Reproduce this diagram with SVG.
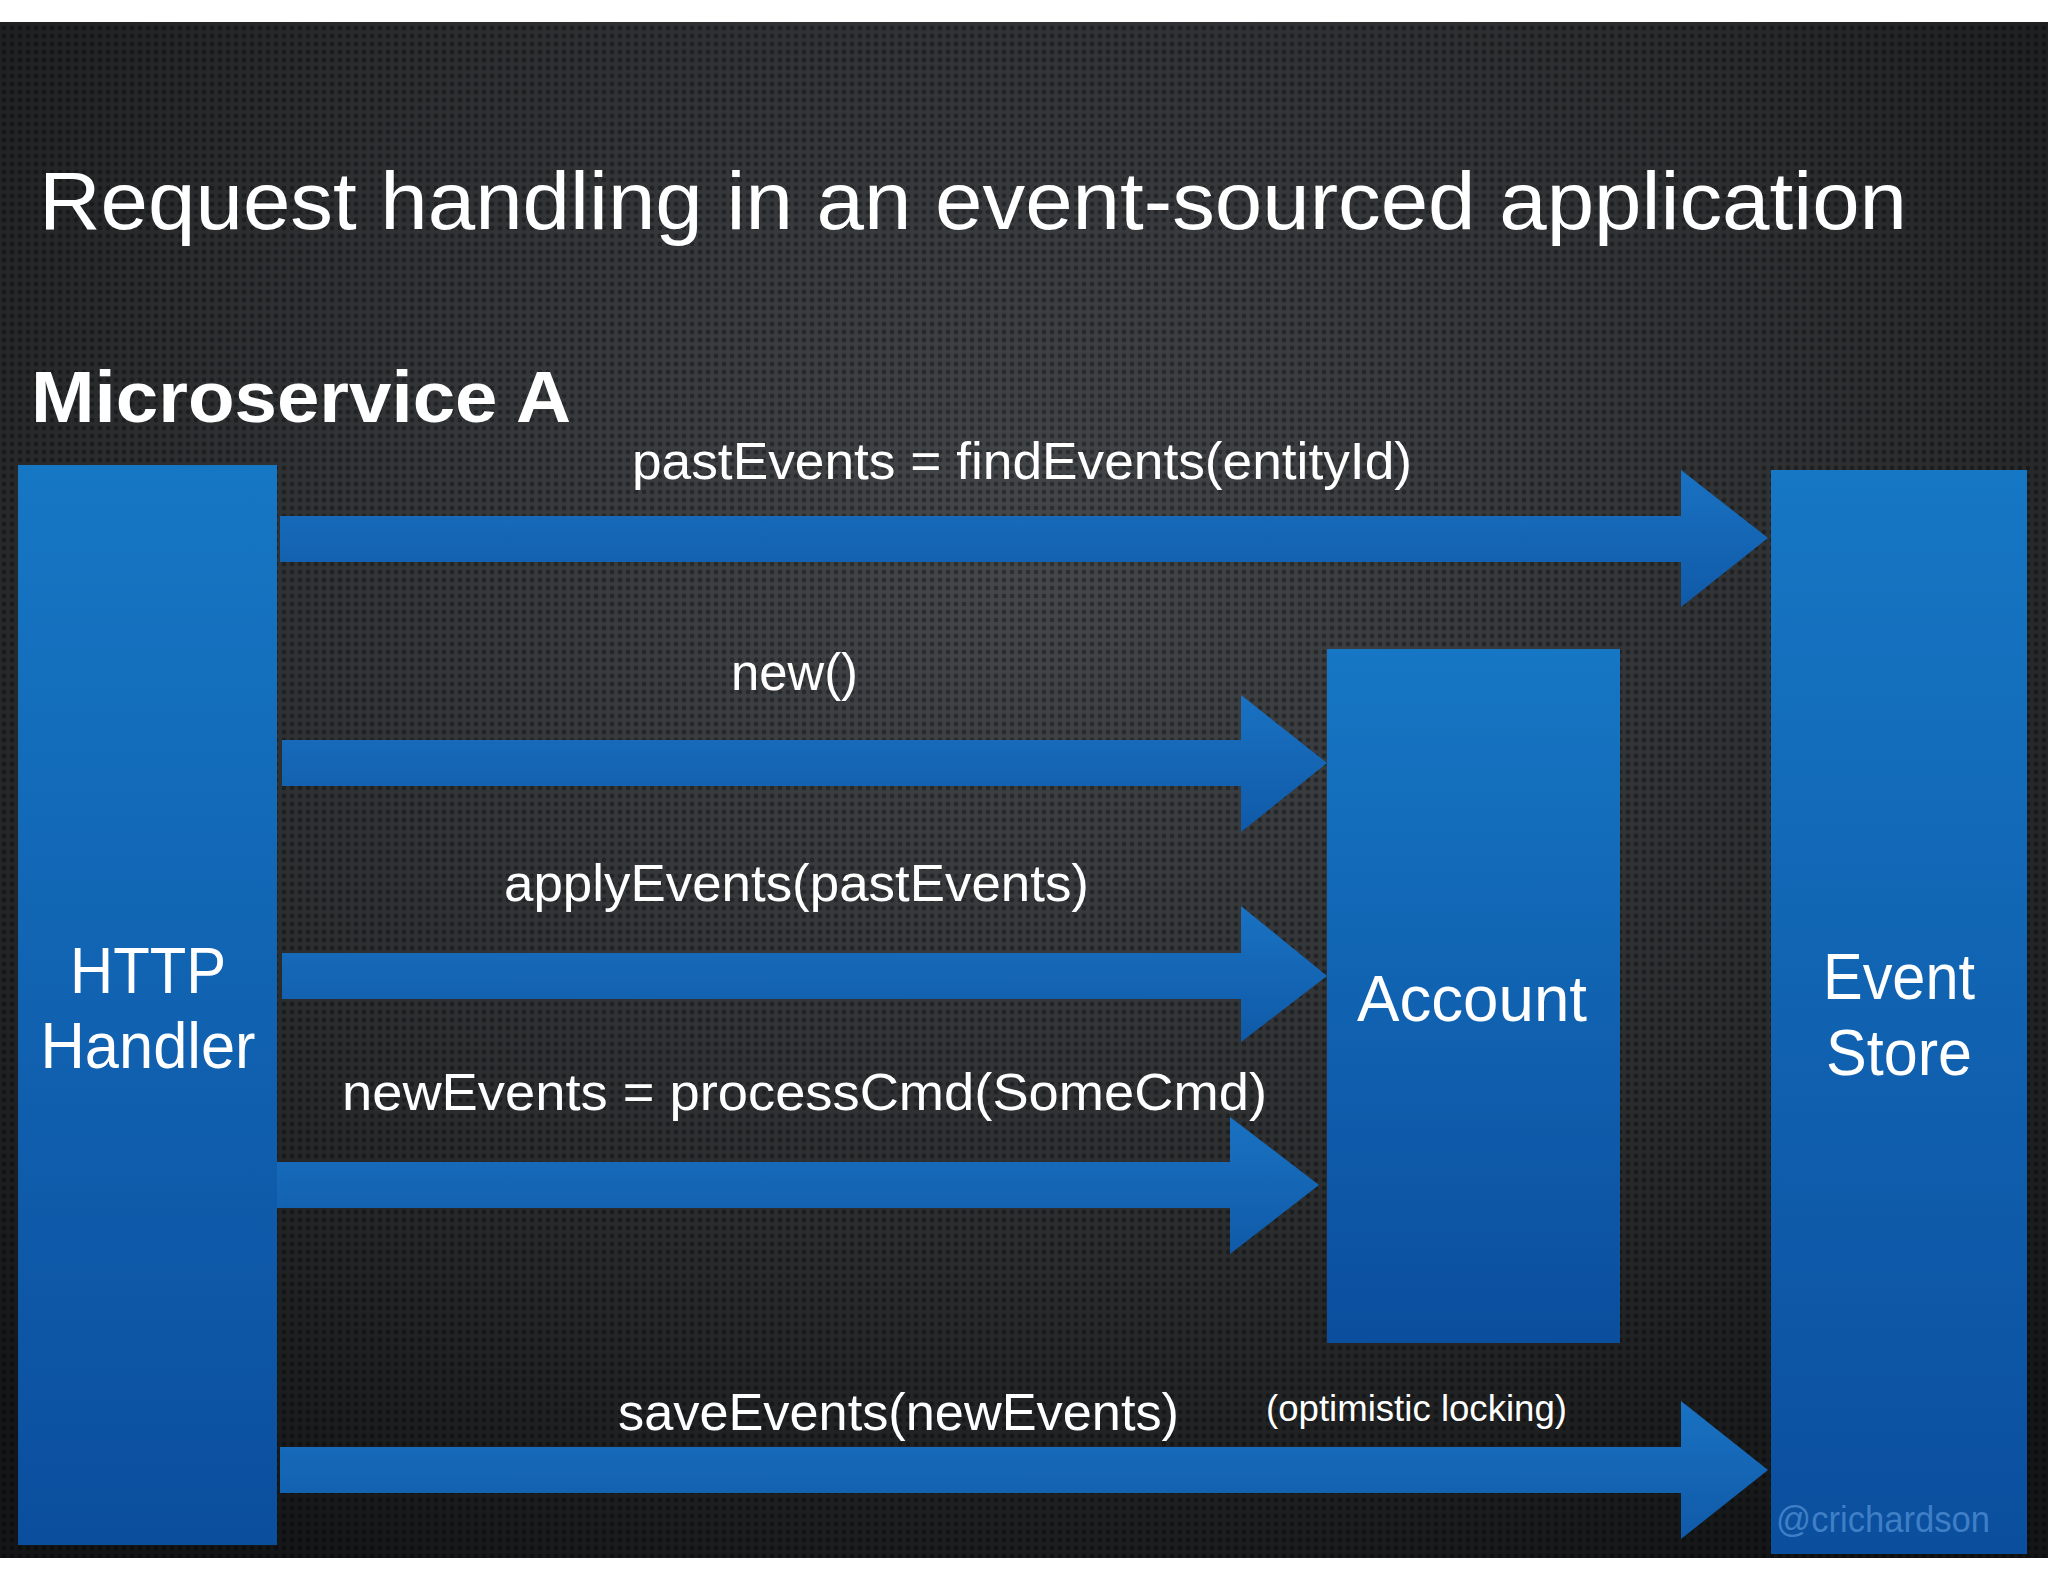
<svg xmlns="http://www.w3.org/2000/svg" width="2048" height="1582" viewBox="0 0 2048 1582">
<defs>
<radialGradient id="bg" cx="0.5" cy="0.35" r="0.75">
<stop offset="0" stop-color="#45484b"/><stop offset="0.6" stop-color="#2a2c2e"/><stop offset="1" stop-color="#141516"/>
</radialGradient>
<pattern id="dots" width="8" height="8" patternUnits="userSpaceOnUse">
<circle cx="4" cy="4" r="2.4" fill="#000" opacity="0.35"/>
</pattern>
<linearGradient id="box" x1="0" y1="0" x2="0" y2="1">
<stop offset="0" stop-color="#1677c4"/><stop offset="1" stop-color="#0b4e9e"/>
</linearGradient>
<linearGradient id="arr" x1="0" y1="0" x2="0" y2="1">
<stop offset="0" stop-color="#1a72c2"/><stop offset="1" stop-color="#0f5aa8"/>
</linearGradient>
<style>
.t{font-family:"Liberation Sans",Arial,sans-serif;fill:#fff}
.lbl{font-size:52px}
.node{font-size:64px;text-anchor:middle}
.a{fill:url(#arr)}
.b{fill:url(#box)}
</style>
</defs>
<rect width="2048" height="1582" fill="#fff"/>
<rect y="22" width="2048" height="1536" fill="url(#bg)"/>
<rect y="22" width="2048" height="1536" fill="url(#dots)"/>
<text class="t" x="39" y="229" font-size="82" textLength="1868" lengthAdjust="spacingAndGlyphs">Request handling in an event-sourced application</text>
<text class="t" x="31" y="422" font-size="72" font-weight="bold" textLength="540" lengthAdjust="spacingAndGlyphs">Microservice A</text>
<g id="connectors">
<polygon class="a" points="280,516 1681,516 1681,470 1768,538 1681,607 1681,562 280,562"/>
<polygon class="a" points="282,740 1241,740 1241,695 1327,763 1241,832 1241,786 282,786"/>
<polygon class="a" points="282,953 1241,953 1241,906 1327,976 1241,1042 1241,999 282,999"/>
<polygon class="a" points="274,1162 1230,1162 1230,1117 1319,1185 1230,1254 1230,1208 274,1208"/>
<polygon class="a" points="280,1447 1681,1447 1681,1401 1768,1470 1681,1539 1681,1493 280,1493"/>
<text class="t lbl" x="632" y="479" textLength="780" lengthAdjust="spacingAndGlyphs">pastEvents = findEvents(entityId)</text>
<text class="t lbl" x="731" y="690" textLength="127" lengthAdjust="spacingAndGlyphs">new()</text>
<text class="t lbl" x="504" y="901" textLength="585" lengthAdjust="spacingAndGlyphs">applyEvents(pastEvents)</text>
<text class="t lbl" x="342" y="1110" textLength="925" lengthAdjust="spacingAndGlyphs">newEvents = processCmd(SomeCmd)</text>
<text class="t lbl" x="618" y="1430" textLength="561" lengthAdjust="spacingAndGlyphs">saveEvents(newEvents)</text>
<text class="t" x="1266" y="1421" font-size="36" textLength="301" lengthAdjust="spacingAndGlyphs">(optimistic locking)</text>
</g>
<g id="http-handler">
<rect class="b" x="18" y="465" width="259" height="1080"/>
<text class="t node" x="148" y="993" textLength="156" lengthAdjust="spacingAndGlyphs">HTTP</text>
<text class="t node" x="148" y="1068" textLength="215" lengthAdjust="spacingAndGlyphs">Handler</text>
</g>
<g id="account">
<rect class="b" x="1327" y="649" width="293" height="694"/>
<text class="t node" x="1472" y="1021" textLength="230" lengthAdjust="spacingAndGlyphs">Account</text>
</g>
<g id="event-store">
<rect class="b" x="1771" y="470" width="256" height="1084"/>
<text class="t node" x="1899" y="999" textLength="152" lengthAdjust="spacingAndGlyphs">Event</text>
<text class="t node" x="1899" y="1075" textLength="146" lengthAdjust="spacingAndGlyphs">Store</text>
<text x="1776" y="1532" font-family="Liberation Sans,Arial,sans-serif" font-size="36" fill="#3f7fc6" textLength="214" lengthAdjust="spacingAndGlyphs">@crichardson</text>
</g>
</svg>
